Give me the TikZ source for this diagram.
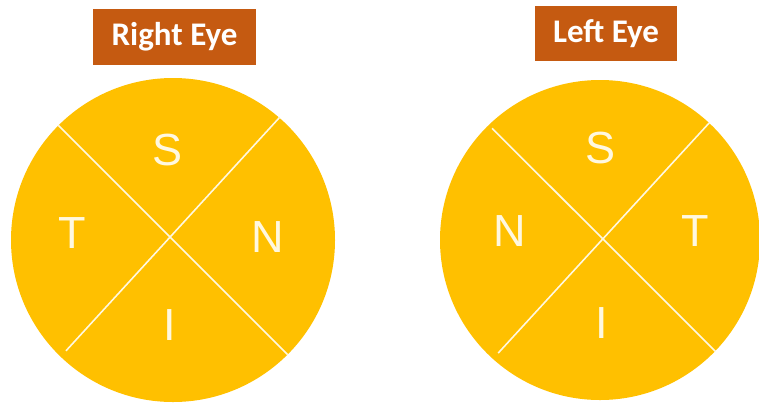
\documentclass[tikz,border=0pt]{standalone}
\usepackage{fontspec}
\usetikzlibrary{calc}
\setmainfont{Liberation Sans}
\newfontfamily\calib{Carlito}
\definecolor{gold}{HTML}{FFC000}
\definecolor{rust}{HTML}{C55A11}
\definecolor{cream}{HTML}{FFF8E0}
\begin{document}
\begin{tikzpicture}[x=1pt,y=-1pt,
  eye/.style={circle,fill=gold,draw=none,minimum size=324pt,inner sep=0pt},
  divider/.style={draw=cream,line width=1.6pt},
  quad/.style={text=cream,font=\fontsize{45}{45}\selectfont,inner sep=0pt},
  title/.style={fill=rust,text=white,font=\calib\bfseries\fontsize{33}{33}\selectfont,inner sep=0pt}]
\useasboundingbox (0,0) rectangle (759,405);
% Right eye
\node[title,minimum width=163pt,minimum height=56pt] (rt) at (174.5,37) {Right Eye};
\node[eye] (re) at (173,240) {};
\draw[divider] (re.135) -- (re.-45);
\draw[divider] (re.49) -- ($(re.center)!0.95!(re.226)$);
\node[quad] (rs) at (168,150) {S};
\node[quad] (rtq) at (72,233) {T};
\node[quad] (rn) at (268,237) {N};
\node[quad] (ri) at (170,325) {I};
% Left eye
\node[title,minimum width=142pt,minimum height=55pt] (lt) at (606,33.5) {Left Eye};
\node[eye,minimum size=320pt] (le) at (600,240) {};
\draw[divider] ($(le.center)!0.97!(le.134)$) -- (le.-44);
\draw[divider] (le.47) -- ($(le.center)!0.95!(le.228)$);
\node[quad] (ls) at (600,148) {S};
\node[quad] (ln) at (510,231) {N};
\node[quad] (ltq) at (695,231) {T};
\node[quad] (li) at (602,323) {I};
\end{tikzpicture}
\end{document}
